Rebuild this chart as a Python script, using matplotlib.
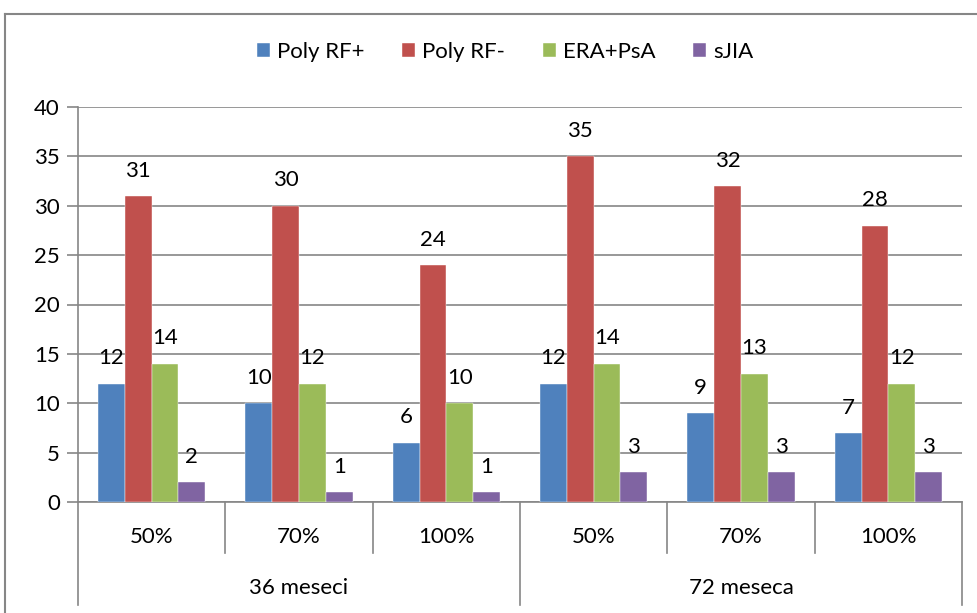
import numpy as np
import matplotlib.pyplot as plt
from matplotlib.lines import Line2D

plt.rcParams['font.family'] = ['Lato', 'DejaVu Sans']

groups = ['36 meseci', '72 meseca']
levels = ['50%', '70%', '100%']
series = ['Poly RF+', 'Poly RF-', 'ERA+PsA', 'sJIA']
poly_rf_pos = [12, 10, 6, 12, 9, 7]
poly_rf_neg = [31, 30, 24, 35, 32, 28]
era_psa = [14, 12, 10, 14, 13, 12]
sjia = [2, 1, 1, 3, 3, 3]
colors = ['#4F81BD', '#C0504D', '#9BBB59', '#8064A2']

W, H = 977, 613
fs = 16
fig = plt.figure(figsize=(W / 100, H / 100), dpi=100)
ax = fig.add_axes([78 / W, (H - 502) / H, 884 / W, 395 / H])

n = len(poly_rf_pos)
x = np.arange(n) + 0.5
bw = 0.182
data = [poly_rf_pos, poly_rf_neg, era_psa, sjia]
for i, (vals, name, c) in enumerate(zip(data, series, colors)):
    xs = x + (i - 1.5) * bw
    ax.bar(xs, vals, width=bw, color=c, label=name, zorder=3,
           edgecolor='white', linewidth=0.3)
    for xi, v in zip(xs, vals):
        ax.annotate(str(v), (xi, v), xytext=(0, 11), textcoords='offset points',
                    ha='center', va='bottom', fontsize=fs)

ax.set_xlim(0, n)
ax.set_ylim(0, 40)
ax.set_yticks(np.arange(0, 41, 5))
ax.yaxis.grid(True, color='#868686', linewidth=1.2, zorder=0)
ax.set_xticks([])
for s in ['top', 'right']:
    ax.spines[s].set_visible(False)
for s in ['left', 'bottom']:
    ax.spines[s].set_color('#868686')
    ax.spines[s].set_linewidth(1.2)
ax.tick_params(axis='y', length=8, width=1.2, color='#868686', labelsize=fs, pad=5)

# multi-level category axis
lc = '#868686'
tr = ax.get_xaxis_transform()
for k in range(n + 1):
    bottom = -0.261 if k % 3 == 0 else -0.129
    ax.add_line(Line2D([k, k], [0, bottom], transform=tr, color=lc, lw=1.2, clip_on=False))
for xi, lab in zip(x, levels * len(groups)):
    ax.text(xi, -0.0886, lab, transform=tr, ha='center', va='center', fontsize=fs)
for g, name in enumerate(groups):
    ax.text(g * 3 + 1.5, -0.218, name, transform=tr, ha='center', va='center', fontsize=fs)

fig.legend(loc='center', bbox_to_anchor=(505 / W, 1 - 52 / H), ncol=4, frameon=False,
           fontsize=fs, handlelength=0.6, handleheight=0.6, handletextpad=0.3,
           columnspacing=1.7)

# chart border
fig.add_artist(Line2D([5 / W, 1], [1 - 14 / H, 1 - 14 / H], transform=fig.transFigure, color=lc, lw=1.5))
fig.add_artist(Line2D([5 / W, 5 / W], [0, 1 - 14 / H], transform=fig.transFigure, color=lc, lw=1.5))

fig.savefig('out.png', dpi=100)
